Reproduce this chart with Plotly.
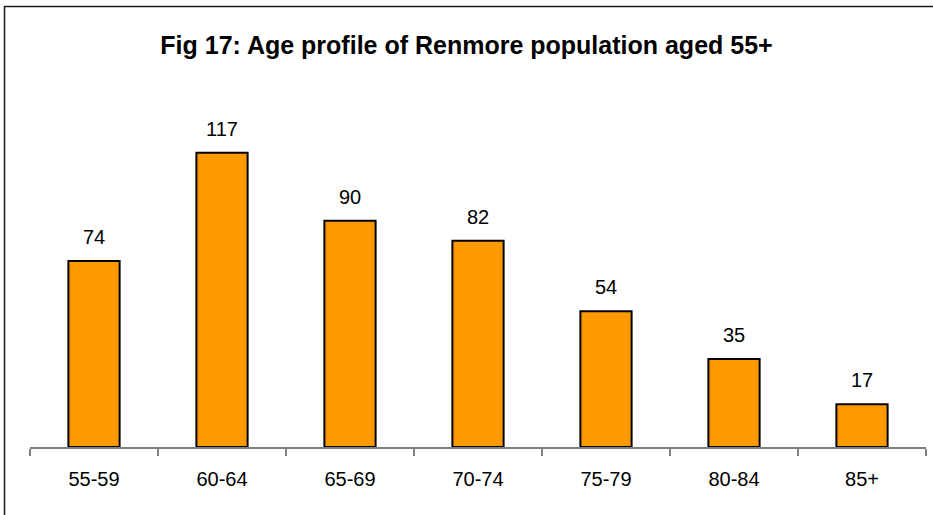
import plotly.graph_objects as go

categories = ["55-59", "60-64", "65-69", "70-74", "75-79", "80-84", "85+"]
values = [74, 117, 90, 82, 54, 35, 17]
title_text = "Fig 17: Age profile of Renmore population aged 55+"

W, H = 933, 515
ml, mr, mt, mb = 30, 7, 95, 68
pw, ph = W - ml - mr, H - mt - mb

fig = go.Figure()
fig.add_trace(go.Bar(
    x=categories, y=values,
    marker=dict(color="#FF9900", line=dict(color="#000000", width=2)),
    width=0.4,
    hoverinfo="x+y",
))

for c, v in zip(categories, values):
    fig.add_annotation(x=c, y=v, text=str(v), showarrow=False,
                       yanchor="middle", yshift=24,
                       font=dict(family="Liberation Sans, Arial", size=20, color="#000000"))

# outer frame (left and top edges visible)
px = lambda x: (x - ml) / pw
py = lambda y: (H - mb - y) / ph
fig.add_shape(type="rect", xref="paper", yref="paper",
              x0=px(4.5), x1=px(W + 20), y0=py(H + 20), y1=py(6.5),
              line=dict(color="#1a1a1a", width=1.5), fillcolor="rgba(0,0,0,0)",
              layer="below")

fig.update_layout(
    width=W, height=H,
    margin=dict(l=ml, r=mr, t=mt, b=mb),
    paper_bgcolor="white", plot_bgcolor="white",
    title=dict(text="<b>" + title_text + "</b>", x=0.5, xref="container",
               y=1 - 45 / H, yanchor="middle",
               font=dict(family="Liberation Sans, Arial", size=25, color="#000000")),
    showlegend=False,
    bargap=0.6,
    xaxis=dict(type="category", showline=True, linecolor="#808080", linewidth=1.5,
               ticks="outside", tickson="boundaries", ticklen=7, tickcolor="#808080",
               tickwidth=1.5, showgrid=False,
               tickfont=dict(family="Liberation Sans, Arial", size=20, color="#000000"),
               ticklabelstandoff=13),
    yaxis=dict(range=[0, 140], visible=False, showgrid=False, zeroline=False),
)

fig.write_html("out.html", config={"displayModeBar": False},
               post_script="document.body.style.margin='0';document.body.style.overflow='hidden';")
